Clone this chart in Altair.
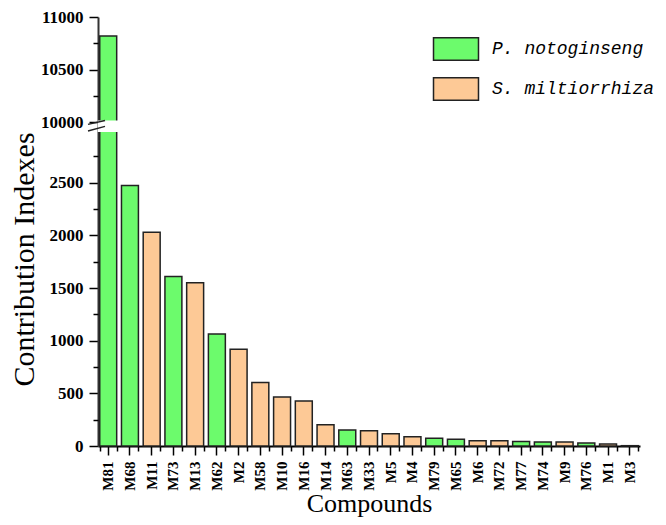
import altair as alt
import pandas as pd

# ---- data ----
categories = ["M81", "M68", "M11", "M73", "M13", "M62", "M2", "M58", "M10", "M16",
              "M14", "M63", "M33", "M5", "M4", "M79", "M65", "M6", "M72", "M77",
              "M74", "M9", "M76", "M1", "M3"]
values = [10820, 2475, 2030, 1610, 1550, 1065, 920, 602, 465, 428,
          202, 152, 146, 117, 87, 74, 65, 50, 49, 43,
          38, 37, 28, 20, 3]
sources = ["P. notoginseng", "P. notoginseng", "S. miltiorrhiza", "P. notoginseng", "S. miltiorrhiza",
           "P. notoginseng", "S. miltiorrhiza", "S. miltiorrhiza", "S. miltiorrhiza", "S. miltiorrhiza",
           "S. miltiorrhiza", "P. notoginseng", "S. miltiorrhiza", "S. miltiorrhiza", "S. miltiorrhiza",
           "P. notoginseng", "P. notoginseng", "S. miltiorrhiza", "S. miltiorrhiza", "P. notoginseng",
           "P. notoginseng", "S. miltiorrhiza", "P. notoginseng", "S. miltiorrhiza", "S. miltiorrhiza"]
legend_names = ["P. notoginseng", "S. miltiorrhiza"]
legend_colors = ["#6CFB6C", "#FDC996"]

# broken axis: lower 0-3000, upper 10000-11000
LOW_MAX = 3000
GAP = 75
UP_MIN = 10000
UP_MAX = 11000
SHIFT = UP_MIN - LOW_MAX - GAP
TOP = LOW_MAX + GAP + (UP_MAX - UP_MIN)
major_ticks = [0, 500, 1000, 1500, 2000, 2500, UP_MIN - SHIFT, 10500 - SHIFT, UP_MAX - SHIFT]
minor_ticks = [250, 750, 1250, 1750, 2250, 2750, 10250 - SHIFT, 10750 - SHIFT]

df = pd.DataFrame({"compound": categories, "value": values, "source": sources})
gap_df = pd.DataFrame({"compound": ["M81"], "lo": [LOW_MAX + 2], "hi": [LOW_MAX + GAP - 2]})
break_df = pd.DataFrame({"y0": [2993, 3055], "y1": [3036, 3092]})

W, H = 542, 429
x_scale = alt.Scale(domain=categories, paddingInner=0.22, paddingOuter=0.08)
y_scale = alt.Scale(domain=[0, TOP], nice=False, zero=True)

base = alt.Chart(df).transform_calculate(
    pos=f"datum.value > {LOW_MAX} ? datum.value - {SHIFT} : datum.value"
)

bars = base.mark_bar(stroke="#222222", strokeWidth=1.5).encode(
    x=alt.X("compound:N", scale=x_scale, sort=categories,
            axis=alt.Axis(title="Compounds", orient="bottom", labelAngle=270,
                          labelAlign="right", labelBaseline="middle",
                          labelFont="Liberation Serif", labelFontWeight="bold",
                          labelFontSize=15, labelColor="#000000", labelPadding=6,
                          tickSize=9, tickWidth=1.5, tickColor="#000000",
                          domainColor="#000000", domainWidth=2,
                          titleFont="Liberation Serif", titleFontWeight="normal",
                          titleFontSize=26, titleColor="#000000",
                          titleX=W / 2, titleY=65, titleBaseline="alphabetic")),
    y=alt.Y("pos:Q", scale=y_scale,
            axis=alt.Axis(title="Contribution Indexes", orient="left", values=major_ticks,
                          labelExpr=f"format(datum.value > {LOW_MAX} ? datum.value + {SHIFT} : datum.value, 'd')",
                          labelFont="Liberation Serif", labelFontWeight="bold",
                          labelFontSize=17, labelColor="#000000", labelPadding=6,
                          tickSize=9, tickWidth=1.5, tickColor="#000000",
                          domainColor="#333333", domainWidth=2, grid=False,
                          titleFont="Liberation Serif", titleFontWeight="normal",
                          titleFontSize=30, titleColor="#000000",
                          titleX=-65, titleY=242, titleBaseline="alphabetic",
                          titleAngle=270)),
    color=alt.Color("source:N",
                    scale=alt.Scale(domain=legend_names, range=legend_colors),
                    legend=alt.Legend(title=None, orient="none", legendX=346, legendY=20,
                                      symbolType="M-2,-1H2V1H-2Z", symbolSize=506,
                                      symbolStrokeColor="#222222", symbolStrokeWidth=1.5,
                                      labelFont="Liberation Mono", labelFontStyle="italic",
                                      labelFontSize=18, labelColor="#000000",
                                      labelLimit=500, labelOffset=24, rowPadding=10, padding=0)),
)

minor = base.mark_bar(opacity=0).encode(
    x=alt.X("compound:N", scale=x_scale, sort=categories,
            axis=alt.Axis(title=None, orient="bottom", tickBand="extent", labels=False,
                          domain=False, tickSize=5, tickWidth=1.5, tickColor="#000000")),
    y=alt.Y("pos:Q", scale=y_scale,
            axis=alt.Axis(title=None, orient="left", values=minor_ticks, labels=False,
                          domain=False, tickSize=5, tickWidth=1.5, tickColor="#000000",
                          grid=False)),
)

gap = alt.Chart(gap_df).mark_bar(color="white", stroke="white", strokeWidth=4).encode(
    x=alt.X("compound:N", scale=x_scale, axis=None),
    y=alt.Y("lo:Q", scale=y_scale, axis=None),
    y2="hi:Q",
)

breaks = alt.Chart(break_df).mark_rule(color="#222222", strokeWidth=1.5).encode(
    x=alt.value(-10), x2=alt.value(7),
    y=alt.Y("y0:Q", scale=y_scale, axis=None),
    y2="y1:Q",
)

chart = alt.layer(bars, minor, gap, breaks).resolve_axis(
    x="independent", y="independent"
).properties(
    width=W, height=H,
    autosize=alt.AutoSizeParams(type="none"),
    padding={"left": 90, "top": 9, "right": 18, "bottom": 71},
    background="white",
).configure_view(stroke=None)

chart.save("out.html", embed_options={"renderer": "svg", "actions": False})
